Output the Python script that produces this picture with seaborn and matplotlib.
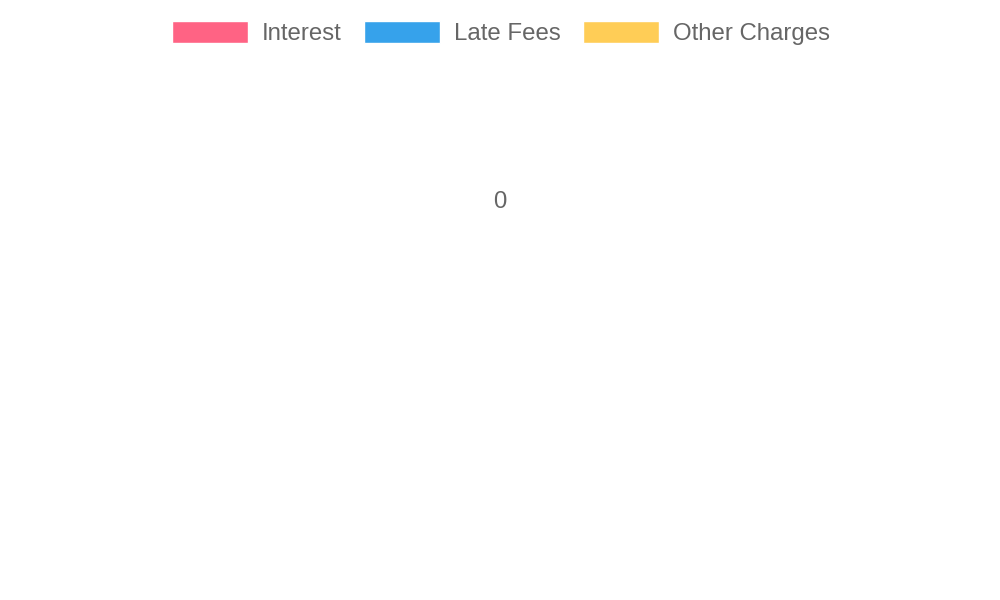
import pandas as pd
import seaborn as sns
import matplotlib
matplotlib.use('Agg')
import matplotlib.pyplot as plt


CATEGORIES = ['Interest', 'Late Fees', 'Other Charges']
AMOUNTS = [0, 0, 0]
COLORS = ['#FF6384', '#36A2EB', '#FFCD56']
SCALE_TICKS = [0]


def plot_charges(df):
    '''
    Draws the charges chart. All values are zero, so only the legend
    and the zero tick of the scale show up.
    '''
    sns.set_theme(style='white')
    plt.rcParams['font.family'] = ['Liberation Sans', 'DejaVu Sans']
    fig = plt.figure(figsize=(10, 6), dpi=100)
    ax = fig.add_axes([0, 0, 1, 0.9])
    sns.barplot(ax=ax, data=df, x='category', y='amount', hue='category',
                palette=COLORS, saturation=1, legend=True)
    handles, labels = ax.get_legend_handles_labels()
    if ax.get_legend() is not None:
        ax.get_legend().remove()
    ax.set_ylim(-3.98, 1.42)
    for tick in SCALE_TICKS:
        ax.text(1, tick, str(tick), ha='center', va='center',
                fontsize=17.3, color='#666666')
    ax.set_axis_off()
    fig.legend(handles, labels, loc='center', bbox_to_anchor=(0.501, 0.945),
               ncol=3, frameon=False, fontsize=17.3, labelcolor='#666666',
               handlelength=3.17, handleheight=1.0, handletextpad=0.58,
               columnspacing=0.92)
    plt.savefig('out.png', dpi=100)


def main():
    df = pd.DataFrame({'category': CATEGORIES, 'amount': AMOUNTS})
    plot_charges(df)


if __name__ == '__main__':
    main()
